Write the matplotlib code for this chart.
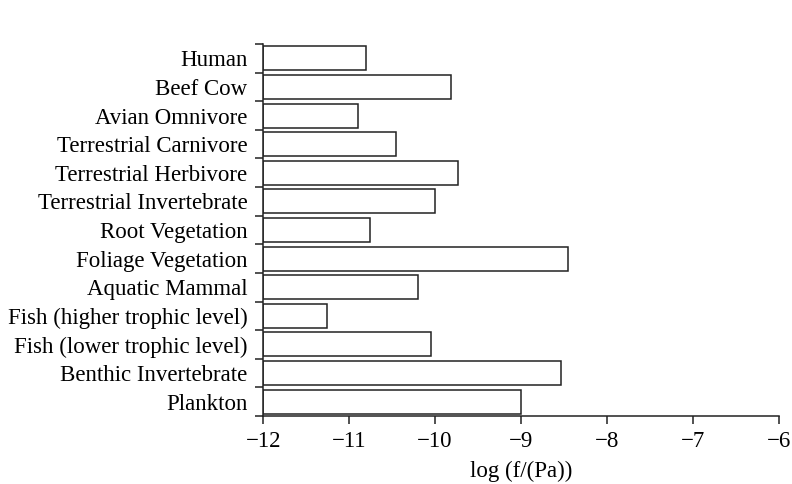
import matplotlib
matplotlib.use("Agg")
import matplotlib.pyplot as plt

# categories listed top to bottom, as in the figure
categories = ["Human", "Beef Cow", "Avian Omnivore", "Terrestrial Carnivore",
              "Terrestrial Herbivore", "Terrestrial Invertebrate", "Root Vegetation",
              "Foliage Vegetation", "Aquatic Mammal", "Fish (higher trophic level)",
              "Fish (lower trophic level)", "Benthic Invertebrate", "Plankton"]
log_f = [-10.81, -9.82, -10.90, -10.46, -9.73, -10.00, -10.76,
         -8.45, -10.20, -11.26, -10.05, -8.54, -9.00]
baseline = -12
xticks = [-12, -11, -10, -9, -8, -7, -6]

plt.rcParams['font.family'] = ['Liberation Serif', 'DejaVu Serif']
fs = 16.5

fig = plt.figure(figsize=(7.92, 4.84), dpi=100)
ax = fig.add_axes([0.3324, 0.1405, 0.651, 0.7685])

n = len(categories)
ypos = list(range(n))
widths = [v - baseline for v in log_f]
ax.barh(ypos, widths, left=baseline, height=0.84, color='white',
        edgecolor='#222222', linewidth=1.1)

ax.set_xlim(-12, -6)
ax.set_ylim(n - 0.5, -0.5)
ax.set_xticks(xticks)
ax.set_xticklabels([str(t).replace('-', '\u2212') for t in xticks], fontsize=fs)

# labels at row centres, ticks at row boundaries
ax.set_yticks([i - 0.5 for i in range(n + 1)])
ax.set_yticklabels([])
ax.set_yticks(ypos, minor=True)
ax.set_yticklabels(categories, minor=True, fontsize=fs)
ax.tick_params(axis='y', which='minor', length=0, pad=11.5)
ax.tick_params(axis='y', which='major', length=6, width=1.1, color='#222222')
ax.tick_params(axis='x', length=6, width=1.1, color='#222222', pad=5)

for side in ['top', 'right']:
    ax.spines[side].set_visible(False)
for side in ['left', 'bottom']:
    ax.spines[side].set_linewidth(1.1)
    ax.spines[side].set_color('#222222')

ax.set_xlabel('log (f/(Pa))', fontsize=fs, labelpad=6)

fig.savefig('out.png', dpi=100)
